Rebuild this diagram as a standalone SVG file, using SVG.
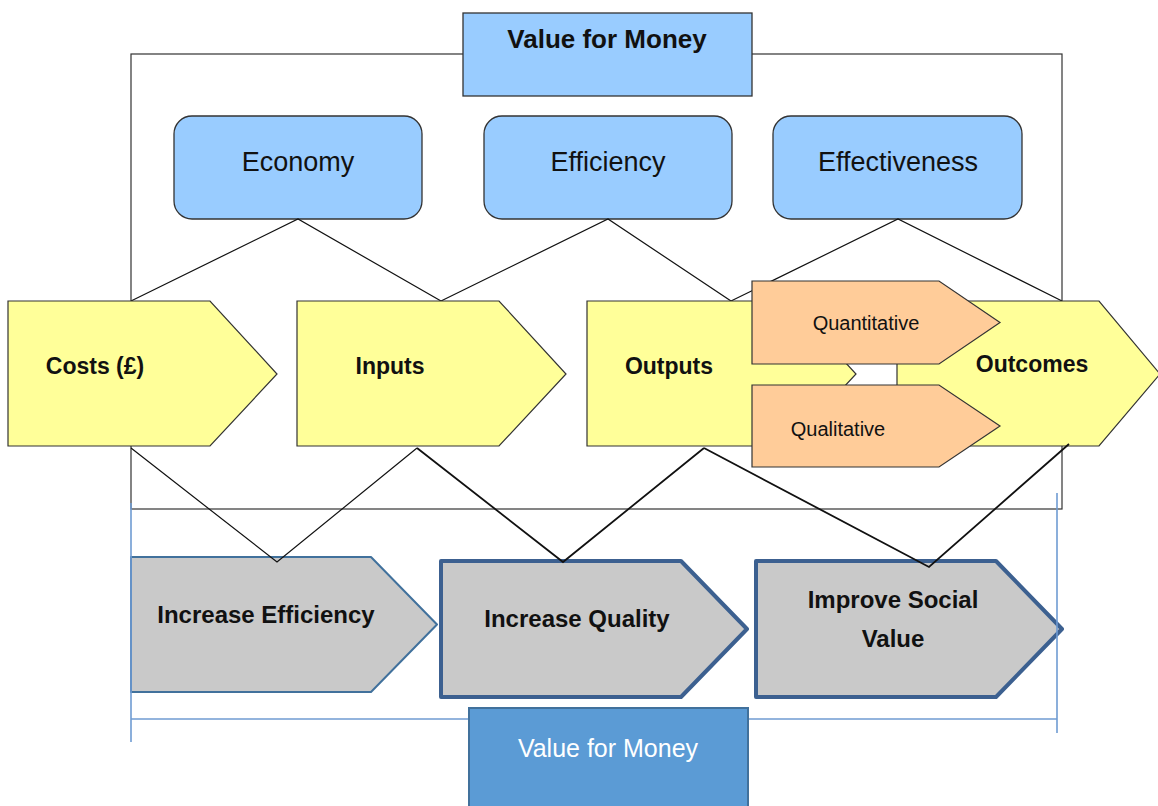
<svg xmlns="http://www.w3.org/2000/svg" width="1158" height="806" viewBox="0 0 1158 806">
  <style>
    .frame { fill: none; stroke: #333; stroke-width: 1.2; }
    .pillar { fill: #99ccff; stroke: #333; stroke-width: 1.3; }
    .stage { fill: #ffff99; stroke: #333; stroke-width: 1.2; }
    .measure { fill: #ffcc99; stroke: #333; stroke-width: 1.2; }
    .goal { fill: #c9c9c9; stroke: #3c6090; stroke-width: 4; stroke-linejoin: round; }
    .goal.thin { stroke: #41719c; stroke-width: 2; }
    .link { fill: none; stroke: #111; stroke-width: 1.2; }
    .link.bold { stroke-width: 1.8; }
    .bracket { fill: none; stroke: #6f9bd2; stroke-width: 1.6; }
    .sans { font-family: "Liberation Sans", Arial, sans-serif; fill: #111; }
    .body { font-family: "Liberation Sans", Calibri, sans-serif; font-weight: bold; fill: #111; }
    text { text-anchor: middle; }
  </style>

  <!-- outer frame around the three E's -->
  <rect class="frame" x="131" y="54" width="931" height="455"/>

  <g id="title-top">
    <rect x="463" y="13" width="289" height="83" fill="#99ccff" stroke="#333" stroke-width="1.3"/>
    <text class="sans" x="607" y="48" font-size="26" font-weight="bold">Value for Money</text>
  </g>

  <g id="economy">
    <rect class="pillar" x="174" y="116" width="248" height="103" rx="18"/>
    <text class="sans" x="298" y="171" font-size="27">Economy</text>
  </g>
  <g id="efficiency">
    <rect class="pillar" x="484" y="116" width="248" height="103" rx="18"/>
    <text class="sans" x="608" y="171" font-size="27">Efficiency</text>
  </g>
  <g id="effectiveness">
    <rect class="pillar" x="773" y="116" width="249" height="103" rx="18"/>
    <text class="sans" x="898" y="171" font-size="27">Effectiveness</text>
  </g>

  <!-- links from the three E's down to the chain -->
  <g id="connectors-top">
    <polyline class="link" points="131,301 298,219 441,301"/>
    <polyline class="link" points="441,301 608,219 731,301"/>
    <polyline class="link" points="731,301 898,219 1062,301"/>
  </g>

  <g id="costs">
    <path class="stage" d="M8,301 H210 L277,374 L210,446 H8 Z"/>
    <text class="sans" x="95" y="374" font-size="23" font-weight="bold">Costs (£)</text>
  </g>
  <g id="inputs">
    <path class="stage" d="M297,301 H499 L566,374 L499,446 H297 Z"/>
    <text class="sans" x="390" y="374" font-size="23" font-weight="bold">Inputs</text>
  </g>
  <g id="outputs">
    <path class="stage" d="M587,301 H789 L856,374 L789,446 H587 Z"/>
    <text class="sans" x="669" y="374" font-size="23" font-weight="bold">Outputs</text>
  </g>
  <g id="outcomes">
    <path class="stage" d="M897,301 H1099 L1160,374 L1099,446 H897 Z"/>
    <text class="sans" x="1032" y="372" font-size="23" font-weight="bold">Outcomes</text>
  </g>
  <g id="quantitative">
    <path class="measure" d="M752,281 H939 L1000,322.5 L939,364 H752 Z"/>
    <text class="sans" x="866" y="330" font-size="20">Quantitative</text>
  </g>
  <g id="qualitative">
    <path class="measure" d="M752,385 H939 L1000,426 L939,467 H752 Z"/>
    <text class="sans" x="838" y="436" font-size="20">Qualitative</text>
  </g>

  <g id="increase-efficiency">
    <path class="goal thin" d="M131,557 H371 L437,624.5 L371,692 H131 Z"/>
    <text class="body" x="266" y="623" font-size="24">Increase Efficiency</text>
  </g>
  <g id="increase-quality">
    <path class="goal" d="M441,561 H681 L747,629 L681,697 H441 Z"/>
    <text class="body" x="577" y="627" font-size="24">Increase Quality</text>
  </g>
  <g id="improve-social-value">
    <path class="goal" d="M756,561 H996 L1062,629 L996,697 H756 Z"/>
    <text class="body" x="893" y="608" font-size="24">Improve Social</text>
    <text class="body" x="893" y="647" font-size="24">Value</text>
  </g>

  <!-- bracket under the aims -->
  <g id="bracket">
    <line class="bracket" x1="131" y1="503" x2="131" y2="742"/>
    <line class="bracket" x1="1057" y1="493" x2="1057" y2="733"/>
    <line class="bracket" x1="131" y1="719" x2="1057" y2="719"/>
  </g>

  <g id="title-bottom">
    <rect x="469" y="708" width="279" height="110" fill="#5b9bd5" stroke="#41719c" stroke-width="2"/>
    <text x="608" y="757" font-family="'Liberation Sans', Calibri, sans-serif" font-size="25" fill="#ffffff">Value for Money</text>
  </g>

  <!-- links from the chain down to the aims -->
  <g id="connectors-bottom">
    <polyline class="link" points="131,448 277,562 417,448"/>
    <polyline class="link bold" points="417,448 563,562 704,448"/>
    <polyline class="link bold" points="704,448 929,567 1069,444"/>
  </g>
</svg>
